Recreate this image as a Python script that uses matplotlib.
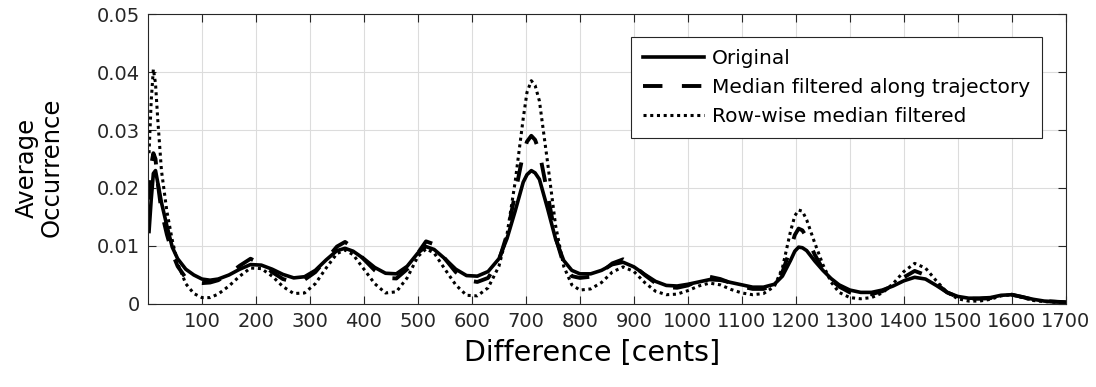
import matplotlib
matplotlib.use('Agg')
import matplotlib.pyplot as plt

plt.rcParams['font.family'] = ['DejaVu Sans']

# interval difference in cents (common sampling for all three curves)
cents = [2, 6, 10, 14, 18, 25, 35, 45, 55, 70, 85, 100, 115, 130, 150, 170, 190,
         210, 230, 250, 270, 290, 310, 330, 350, 365, 380, 400, 420, 440, 460, 480,
         500, 515, 530, 550, 570, 590, 610, 630, 650, 665, 680, 695, 702, 710, 717, 725,
         740, 755, 770, 785, 800, 820, 840, 860, 880, 900, 920, 940, 960, 980, 1000,
         1020, 1040, 1060, 1080, 1100, 1120, 1140, 1160, 1175, 1190, 1198, 1205, 1212,
         1220, 1235, 1250, 1265, 1280, 1300, 1320, 1340, 1360, 1380, 1400, 1420, 1440,
         1460, 1480, 1500, 1520, 1540, 1560, 1580, 1600, 1620, 1640, 1660, 1680, 1700]

original = [0.0125, 0.018, 0.0225, 0.023, 0.021, 0.0175, 0.0135, 0.0098, 0.0078, 0.006,
            0.005, 0.0043, 0.0041, 0.0043, 0.005, 0.006, 0.0068, 0.0067, 0.006, 0.0051,
            0.0045, 0.0047, 0.0058, 0.0076, 0.0092, 0.0096, 0.0091, 0.0078, 0.0063, 0.0053,
            0.0052, 0.0065, 0.0088, 0.0099, 0.0094, 0.0078, 0.006, 0.0049, 0.0048, 0.0056,
            0.0078, 0.0113, 0.016, 0.021, 0.0223, 0.023, 0.0226, 0.0215, 0.0165, 0.0112,
            0.0075, 0.0058, 0.0052, 0.0052, 0.0058, 0.0068, 0.0072, 0.0064, 0.0051, 0.0039,
            0.0032, 0.0031, 0.0034, 0.0038, 0.0042, 0.0041, 0.0037, 0.0033, 0.0029, 0.0029,
            0.0034, 0.0048, 0.0075, 0.0091, 0.0098, 0.0097, 0.0092, 0.0074, 0.0058, 0.0044,
            0.0033, 0.0024, 0.002, 0.002, 0.0024, 0.0031, 0.004, 0.0046, 0.0043, 0.0032,
            0.002, 0.0013, 0.001, 0.001, 0.0011, 0.0015, 0.0016, 0.0012, 0.0008, 0.0005,
            0.0004, 0.0003]

median_traj = [0.018, 0.024, 0.026, 0.025, 0.021, 0.016, 0.012, 0.0088, 0.0065, 0.0045,
               0.0037, 0.0036, 0.0037, 0.0041, 0.0052, 0.0066, 0.0078, 0.0069, 0.0055, 0.0043,
               0.0038, 0.0042, 0.0055, 0.0077, 0.0099, 0.0107, 0.0097, 0.0077, 0.0058, 0.0045,
               0.0044, 0.006, 0.0088, 0.0108, 0.0103, 0.0078, 0.0055, 0.0041, 0.0038, 0.0045,
               0.0075, 0.012, 0.019, 0.026, 0.028, 0.029, 0.0283, 0.0262, 0.019, 0.0115,
               0.0068, 0.0048, 0.0045, 0.0047, 0.0055, 0.007, 0.0077, 0.0066, 0.005, 0.0036,
               0.0029, 0.0028, 0.0032, 0.004, 0.0047, 0.0043, 0.0036, 0.003, 0.0026, 0.0026,
               0.0033, 0.0055, 0.0095, 0.0119, 0.013, 0.0127, 0.0115, 0.0085, 0.006, 0.0042,
               0.003, 0.002, 0.0016, 0.0017, 0.0022, 0.0032, 0.0046, 0.0057, 0.005, 0.0035,
               0.002, 0.0012, 0.0009, 0.0009, 0.001, 0.0015, 0.0016, 0.0012, 0.0007, 0.0005,
               0.0004, 0.0003]

rowwise = [0.026, 0.035, 0.0405, 0.038, 0.032, 0.023, 0.016, 0.011, 0.007, 0.0035,
           0.0018, 0.0011, 0.0011, 0.0017, 0.0031, 0.0048, 0.0062, 0.0061, 0.0048, 0.003,
           0.0018, 0.0019, 0.0035, 0.0062, 0.0087, 0.0093, 0.0085, 0.006, 0.0035, 0.0019,
           0.0021, 0.0045, 0.0082, 0.0095, 0.0088, 0.006, 0.0033, 0.0015, 0.0014, 0.0028,
           0.0065, 0.012, 0.021, 0.032, 0.0365, 0.0385, 0.0377, 0.035, 0.0245, 0.0135,
           0.0065, 0.0033, 0.0024, 0.0026, 0.0037, 0.0055, 0.0064, 0.0056, 0.0037, 0.0022,
           0.0016, 0.0017, 0.0023, 0.0031, 0.0036, 0.0033, 0.0025, 0.0019, 0.0016, 0.0018,
           0.003, 0.0062, 0.0125, 0.0152, 0.0162, 0.016, 0.0145, 0.0105, 0.0068, 0.0038,
           0.002, 0.0011, 0.0009, 0.0011, 0.0019, 0.0035, 0.0056, 0.007, 0.0062, 0.004,
           0.002, 0.0009, 0.0005, 0.0005, 0.0008, 0.0014, 0.0016, 0.0011, 0.0006, 0.0004,
           0.0003, 0.0002]

xticks = list(range(100, 1800, 100))
yticks = [0, 0.01, 0.02, 0.03, 0.04, 0.05]
ytick_labels = ['0', '0.01', '0.02', '0.03', '0.04', '0.05']

fig = plt.figure(figsize=(10.96, 3.87), dpi=100)
ax = fig.add_axes([0.135, 0.2145, 0.8375, 0.7493])

ax.plot(cents, original, color='black', lw=2.6, label='Original')
ax.plot(cents, median_traj, color='black', lw=2.8, dashes=(5, 5),
        label='Median filtered along trajectory')
ax.plot(cents, rowwise, color='black', lw=2.2, dashes=(1, 1.2),
        label='Row-wise median filtered')

ax.set_xlim(0, 1700)
ax.set_ylim(0, 0.05)
ax.set_xticks(xticks)
ax.set_yticks(yticks)
ax.set_yticklabels(ytick_labels)
ax.grid(True, color='#dcdcdc', lw=0.8)
ax.set_axisbelow(True)
ax.tick_params(direction='in', top=True, right=True, length=6, width=0.8,
               labelsize=14, colors='#262626', pad=6)
for side in ax.spines.values():
    side.set_color('#262626')
    side.set_linewidth(0.8)

ax.set_xlabel('Difference [cents]', fontsize=20.5)
ax.xaxis.set_label_coords(0.484, -0.12)
ax.set_ylabel('Average\nOccurrence', fontsize=17.5, linespacing=1.05)
ax.yaxis.set_label_coords(-0.092, 0.47)

leg = ax.legend(loc='upper right', bbox_to_anchor=(0.974, 0.921), fontsize=14.5,
                fancybox=False, framealpha=1, edgecolor='#262626', handlelength=3.0,
                borderpad=0.6, labelspacing=0.5, handletextpad=0.4, borderaxespad=0)
leg.get_frame().set_linewidth(0.8)

fig.savefig('out.png', dpi=100)
